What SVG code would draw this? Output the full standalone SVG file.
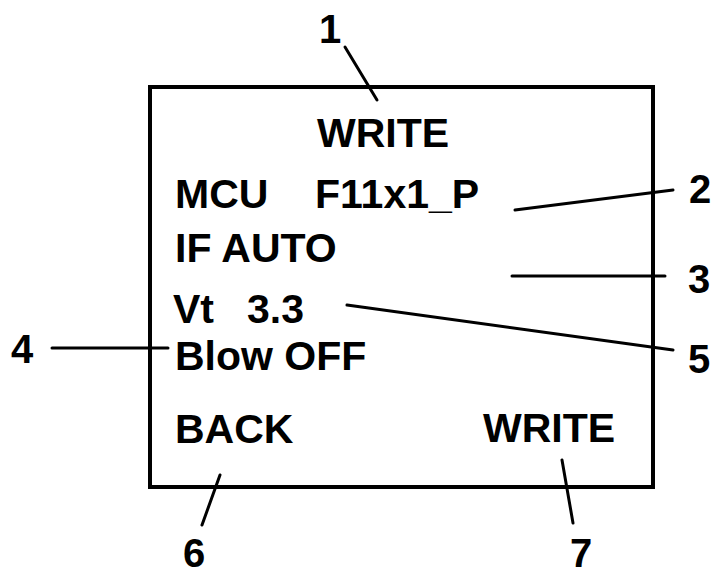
<svg xmlns="http://www.w3.org/2000/svg" width="715" height="578" viewBox="0 0 715 578">
<style>
.t{font-family:"Liberation Sans",Arial,sans-serif;font-weight:bold;font-size:41px;fill:#000}
.n{font-family:"Liberation Sans",Arial,sans-serif;font-weight:bold;font-size:40px;fill:#000}
.l{stroke:#000;stroke-width:3;fill:none;stroke-linecap:round}
</style>
<rect width="715" height="578" fill="#fff"/>
<g id="screen">
<rect x="150" y="87" width="503" height="400" fill="none" stroke="#000" stroke-width="4"/>
<text class="t" x="317" y="147">WRITE</text>
<text class="t" x="175" y="208">MCU</text>
<text class="t" x="315" y="208">F11x1_P</text>
<text class="t" x="175" y="262">IF AUTO</text>
<text class="t" x="173" y="323">Vt</text>
<text class="t" x="247" y="323">3.3</text>
<text class="t" x="175" y="370">Blow OFF</text>
<text class="t" x="175" y="443">BACK</text>
<text class="t" x="483" y="442">WRITE</text>
</g>
<g id="connectors">
<line class="l" x1="345" y1="47" x2="377" y2="100"/>
<line class="l" x1="515" y1="210" x2="673" y2="190"/>
<line class="l" x1="512" y1="276" x2="665" y2="276"/>
<line class="l" x1="347" y1="305" x2="673" y2="350"/>
<line class="l" x1="52" y1="348" x2="168" y2="348"/>
<line class="l" x1="220" y1="475" x2="202" y2="525"/>
<line class="l" x1="562" y1="460" x2="573" y2="523"/>
</g>
<g id="labels">
<text class="n" x="319" y="43">1</text>
<text class="n" x="689" y="203">2</text>
<text class="n" x="688" y="293">3</text>
<text class="n" x="11" y="363">4</text>
<text class="n" x="688" y="373">5</text>
<text class="n" x="183" y="567">6</text>
<text class="n" x="570" y="567">7</text>
</g>
</svg>
